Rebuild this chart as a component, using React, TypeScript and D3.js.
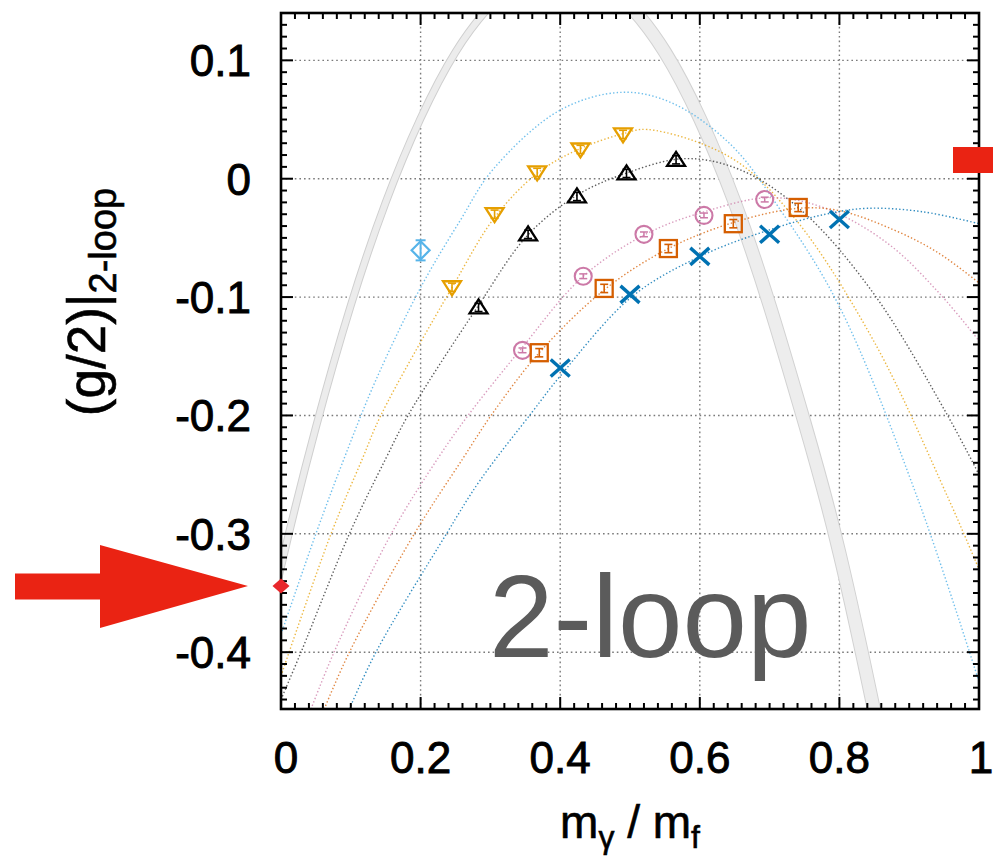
import React from 'react';
import * as d3 from 'd3';

const W = 993;
const H = 860;

// axis ticks
const xTicks = [0, 0.2, 0.4, 0.6, 0.8, 1];
const xTickLabels = ['0', '0.2', '0.4', '0.6', '0.8', '1'];
const yTicks = [0.1, 0, -0.1, -0.2, -0.3, -0.4];
const yTickLabels = ['0.1', '0', '-0.1', '-0.2', '-0.3', '-0.4'];

// data points (marker series)
const lbX = [0.2];
const lbY = [-0.0605];
const lbErr = [0.0085];

const orX = [0.245, 0.306, 0.367, 0.429, 0.49];
const orY = [-0.0917, -0.03, 0.0053, 0.0247, 0.0374];
const orErr = [0.0035, 0.0035, 0.0035, 0.0035, 0.0035];

const bkX = [0.283, 0.354, 0.424, 0.495, 0.566];
const bkY = [-0.1087, -0.047, -0.015, 0.0045, 0.016];
const bkErr = [0.0035, 0.0035, 0.0035, 0.0035, 0.0035];

const pkX = [0.346, 0.433, 0.52, 0.606, 0.693];
const pkY = [-0.145, -0.0824, -0.047, -0.031, -0.0176];
const pkErr = [0.002, 0.002, 0.002, 0.002, 0.002];

const vmX = [0.37, 0.463, 0.555, 0.648, 0.741];
const vmY = [-0.147, -0.0927, -0.059, -0.038, -0.0243];
const vmErr = [0.0035, 0.0035, 0.0035, 0.0035, 0.0035];

const blX = [0.4, 0.5, 0.6, 0.7, 0.8];
const blY = [-0.16, -0.0977, -0.0656, -0.047, -0.0344];

// fitted curves
const lbFitX = [0, 0.05, 0.09, 0.136, 0.2, 0.257, 0.304, 0.4, 0.489, 0.56, 0.644, 0.715, 0.8, 0.912, 1.0];
const lbFitY = [-0.385, -0.3, -0.237, -0.17, -0.092, -0.035, 0.008, 0.058, 0.073, 0.064, 0.029, -0.026, -0.108, -0.27, -0.425];

const orFitX = [0, 0.0717, 0.117, 0.143, 0.245, 0.307, 0.368, 0.427, 0.49, 0.525, 0.644, 0.734, 0.85, 0.956, 1.0];
const orFitY = [-0.42, -0.3, -0.236, -0.2, -0.092, -0.032, 0.005, 0.025, 0.038, 0.0416, 0.018, -0.032, -0.138, -0.27, -0.33];

const bkFitX = [0, 0.0287, 0.098, 0.1505, 0.182, 0.283, 0.353, 0.424, 0.496, 0.58, 0.66, 0.748, 0.849, 0.955, 1.0];
const bkFitY = [-0.44, -0.4, -0.3, -0.236, -0.2, -0.107, -0.048, -0.014, 0.005, 0.017, 0.007, -0.028, -0.097, -0.2, -0.25];

const pkFitX = [0.043, 0.076, 0.158, 0.225, 0.268, 0.345, 0.432, 0.522, 0.606, 0.7, 0.78, 0.87, 0.945, 1.0];
const pkFitY = [-0.448, -0.4, -0.3, -0.236, -0.2, -0.143, -0.083, -0.047, -0.028, -0.016, -0.025, -0.055, -0.098, -0.137];

const vmFitX = [0.062, 0.098, 0.191, 0.261, 0.301, 0.37, 0.465, 0.555, 0.648, 0.741, 0.8, 0.877, 0.94, 1.0];
const vmFitY = [-0.448, -0.4, -0.3, -0.236, -0.2, -0.147, -0.093, -0.059, -0.037, -0.025, -0.027, -0.043, -0.062, -0.088];

const blFitX = [0.098, 0.136, 0.237, 0.285, 0.36, 0.401, 0.502, 0.599, 0.701, 0.78, 0.84, 0.92, 1.0];
const blFitY = [-0.448, -0.4, -0.3, -0.255, -0.197, -0.166, -0.1, -0.066, -0.043, -0.03, -0.025, -0.028, -0.038];

// gray band (two branches of the prediction)
const bandLeftX = [-0.05, 0, 0.05, 0.1, 0.15, 0.2, 0.25, 0.3, 0.35, 0.4];
const bandLeftY = [-0.463, -0.328, -0.21, -0.107, -0.02, 0.051, 0.107, 0.146, 0.17, 0.178];
const bandRightX = [0.4, 0.45, 0.5, 0.55, 0.6, 0.65, 0.7, 0.75, 0.8, 0.85, 0.86];
const bandRightY = [0.178, 0.17, 0.146, 0.107, 0.051, -0.02, -0.107, -0.206, -0.316, -0.45, -0.48];

// exact value marker
const exactX = [0];
const exactY = [-0.344];

const C_LB = '#56b4e9';
const C_OR = '#e69f00';
const C_BK = '#000000';
const C_PK = '#cc79a7';
const C_VM = '#d55e00';
const C_BL = '#0072b2';
const RED = '#ea2313';

const FONT = '"Liberation Sans", Arial, Helvetica, sans-serif';

export default function App() {
  const L = 281, R = 979, T = 13, B = 709;
  const x = d3.scaleLinear().domain([0, 1]).range([L, R]);
  const y = d3.scaleLinear().domain([-0.448, 0.14]).range([B, T]);
  const zip = (xs: number[], ys: number[]) => xs.map((v, i) => [v, ys[i]] as [number, number]);
  const line = d3
    .line<[number, number]>()
    .x((d) => x(d[0]))
    .y((d) => y(d[1]))
    .curve(d3.curveCatmullRom.alpha(0.5));
  const smooth = d3
    .line<[number, number]>()
    .x((d) => x(d[0]))
    .y((d) => y(d[1]))
    .curve(d3.curveNatural);

  const xMinor = d3.range(0, 51).map((i) => i / 50);
  const yMinor = d3.range(-44, 15).map((i) => i / 100);
  const gridX = [0.2, 0.4, 0.6, 0.8];

  const fits = [
    { xs: lbFitX, ys: lbFitY, c: C_LB, o: 0.85 },
    { xs: orFitX, ys: orFitY, c: C_OR, o: 0.75 },
    { xs: bkFitX, ys: bkFitY, c: '#333333', o: 0.8 },
    { xs: pkFitX, ys: pkFitY, c: C_PK, o: 0.75 },
    { xs: vmFitX, ys: vmFitY, c: C_VM, o: 0.75 },
    { xs: blFitX, ys: blFitY, c: C_BL, o: 0.8 },
  ];

  const errBar = (cx: number, v: number, e: number, c: string, cap: number, sw: number) => {
    const y1 = y(v + e);
    const y2 = y(v - e);
    return (
      <g stroke={c} strokeWidth={sw} fill="none">
        <line x1={cx} x2={cx} y1={y1} y2={y2} />
        <line x1={cx - cap} x2={cx + cap} y1={y1} y2={y1} />
        <line x1={cx - cap} x2={cx + cap} y1={y2} y2={y2} />
      </g>
    );
  };

  const arrowY = y(exactY[0]);
  const tipX = x(exactX[0]) - 33;
  const bandL = smooth(zip(bandLeftX, bandLeftY)) || '';
  const bandR = smooth(zip(bandRightX, bandRightY)) || '';

  return (
    <svg
      width={W}
      height={H}
      viewBox={`0 0 ${W} ${H}`}
      style={{ position: 'absolute', left: 0, top: 0, background: '#fff' }}
      fontFamily={FONT}
    >
      <defs>
        <clipPath id="plotClip">
          <rect x={L} y={T} width={R - L} height={B - T} />
        </clipPath>
      </defs>
      <rect x={0} y={0} width={W} height={H} fill="#fff" />

      {/* grid */}
      <g stroke="#7a7a7a" strokeWidth={1.4} strokeDasharray="1.6 3">
        {gridX.map((v) => (
          <line key={'gx' + v} x1={x(v)} x2={x(v)} y1={T} y2={B} />
        ))}
        {yTicks.map((v) => (
          <line key={'gy' + v} x1={L} x2={R} y1={y(v)} y2={y(v)} />
        ))}
      </g>

      <g clipPath="url(#plotClip)">
        {/* band */}
        <path d={bandL} fill="none" stroke="#cfcfcf" strokeWidth={8} />
        <path d={bandL} fill="none" stroke="#ececec" strokeWidth={6} />
        <path d={bandR} fill="none" stroke="#d2d2d2" strokeWidth={14} />
        <path d={bandR} fill="none" stroke="#ededed" strokeWidth={12} />

        {/* fits */}
        {fits.map((f, i) => (
          <path
            key={'fit' + i}
            d={line(zip(f.xs, f.ys)) || ''}
            fill="none"
            stroke={f.c}
            strokeOpacity={f.o}
            strokeWidth={1.4}
            strokeDasharray="1.4 2.2"
          />
        ))}
      </g>

      {/* "2-loop" label */}
      <text x={489} y={657} fontSize={116} fill="#5b5b5b" fontFamily={FONT}>
        2-loop
      </text>

      {/* markers */}
      {lbX.map((v, i) => {
        const cx = x(v), cy = y(lbY[i]);
        return (
          <g key={'lb' + i}>
            <path
              d={`M${cx - 9},${cy} L${cx},${cy - 9} L${cx + 9},${cy} L${cx},${cy + 9} Z`}
              fill="none"
              stroke={C_LB}
              strokeWidth={2.2}
            />
            {errBar(cx, lbY[i], lbErr[i], C_LB, 5, 2)}
          </g>
        );
      })}
      {orX.map((v, i) => {
        const cx = x(v), cy = y(orY[i]);
        return (
          <g key={'or' + i}>
            <path
              d={`M${cx - 9},${cy - 6} L${cx + 9},${cy - 6} L${cx},${cy + 8} Z`}
              fill="none"
              stroke={C_OR}
              strokeWidth={2.3}
            />
            {errBar(cx, orY[i], orErr[i], C_OR, 4, 1.6)}
          </g>
        );
      })}
      {bkX.map((v, i) => {
        const cx = x(v), cy = y(bkY[i]);
        return (
          <g key={'bk' + i}>
            <path
              d={`M${cx - 9},${cy + 6} L${cx + 9},${cy + 6} L${cx},${cy - 8} Z`}
              fill="none"
              stroke={C_BK}
              strokeWidth={2.3}
            />
            {errBar(cx, bkY[i], bkErr[i], C_BK, 4, 1.6)}
          </g>
        );
      })}
      {pkX.map((v, i) => {
        const cx = x(v), cy = y(pkY[i]);
        return (
          <g key={'pk' + i}>
            <circle cx={cx} cy={cy} r={8.5} fill="none" stroke={C_PK} strokeWidth={2.1} />
            {errBar(cx, pkY[i], pkErr[i], C_PK, 4, 1.5)}
          </g>
        );
      })}
      {vmX.map((v, i) => {
        const cx = x(v), cy = y(vmY[i]);
        return (
          <g key={'vm' + i}>
            <rect x={cx - 8.5} y={cy - 8.5} width={17} height={17} fill="none" stroke={C_VM} strokeWidth={2.3} />
            {errBar(cx, vmY[i], vmErr[i], C_VM, 4, 1.6)}
          </g>
        );
      })}
      {blX.map((v, i) => {
        const cx = x(v), cy = y(blY[i]);
        return (
          <g key={'bl' + i} stroke={C_BL} strokeWidth={3.4} strokeLinecap="butt">
            <line x1={cx - 9.5} y1={cy - 8.5} x2={cx + 9.5} y2={cy + 8.5} />
            <line x1={cx - 9.5} y1={cy + 8.5} x2={cx + 9.5} y2={cy - 8.5} />
          </g>
        );
      })}

      {/* frame and ticks */}
      <g stroke="#000" strokeWidth={2}>
        {xMinor.map((v, i) => {
          const len = i % 10 === 0 ? 12 : 6;
          return (
            <g key={'xt' + i}>
              <line x1={x(v)} x2={x(v)} y1={B} y2={B - len} />
              <line x1={x(v)} x2={x(v)} y1={T} y2={T + len} />
            </g>
          );
        })}
        {yMinor.map((v, i) => {
          const major = Math.abs(Math.round(v * 100)) % 10 === 0;
          const len = major ? 12 : 6;
          return (
            <g key={'yt' + i}>
              <line x1={L} x2={L + len} y1={y(v)} y2={y(v)} />
              <line x1={R} x2={R - len} y1={y(v)} y2={y(v)} />
            </g>
          );
        })}
      </g>
      <rect x={L} y={T} width={R - L} height={B - T} fill="none" stroke="#000" strokeWidth={2.6} />

      {/* exact value */}
      {exactX.map((v, i) => {
        const cx = x(v), cy = y(exactY[i]);
        return (
          <path
            key={'ex' + i}
            d={`M${cx - 8.5},${cy} L${cx},${cy - 7.5} L${cx + 8.5},${cy} L${cx},${cy + 7.5} Z`}
            fill="#e8272b"
          />
        );
      })}

      {/* red arrow */}
      <path
        d={`M15,${arrowY - 12.5} L100,${arrowY - 12.5} L100,${arrowY - 41} L${tipX},${arrowY} L100,${arrowY + 42} L100,${arrowY + 13.5} L15,${arrowY + 13.5} Z`}
        fill={RED}
      />
      {/* red block at right edge */}
      <rect x={953} y={147} width={40} height={26} fill={RED} />

      {/* tick labels */}
      <g fontSize={44} fill="#000" stroke="#000" strokeWidth={0.9} fontFamily={FONT}>
        {yTicks.map((v, i) => (
          <text key={'yl' + i} x={251} y={y(v) + 16} textAnchor="end">
            {yTickLabels[i]}
          </text>
        ))}
        {xTicks.map((v, i) => (
          <text key={'xl' + i} x={x(v) + (i === 0 ? 5 : i === 5 ? 2 : 0)} y={773} textAnchor="middle">
            {xTickLabels[i]}
          </text>
        ))}
      </g>

      {/* axis titles */}
      <text x={630} y={838} textAnchor="middle" fontSize={46} fill="#000" stroke="#000" strokeWidth={0.6}>
        m
        <tspan fontSize={32} dy={10}>γ</tspan>
        <tspan fontSize={46} dy={-10}>{'\u00A0/\u00A0m'}</tspan>
        <tspan fontSize={32} dy={10}>f</tspan>
      </text>
      <text
        transform="translate(105,302) rotate(-90)"
        textAnchor="middle"
        fontSize={53}
        fill="#000"
        stroke="#000"
        strokeWidth={0.6}
      >
        (g/2)|
        <tspan fontSize={38} dy={11}>2-loop</tspan>
      </text>
    </svg>
  );
}
